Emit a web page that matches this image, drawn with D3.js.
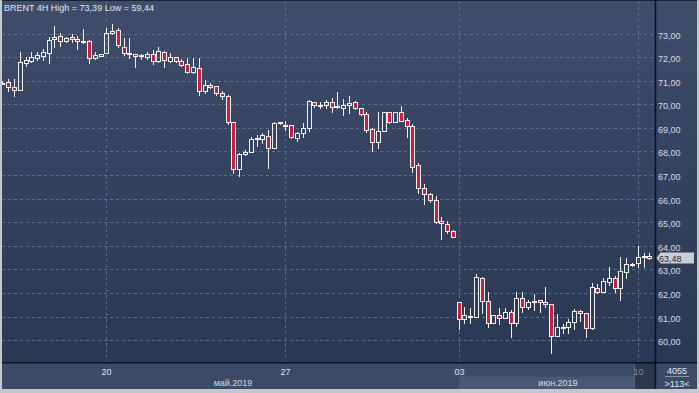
<!DOCTYPE html>
<html><head><meta charset="utf-8">
<script src="https://cdn.jsdelivr.net/npm/d3@7"></script>
<style>html,body{margin:0;padding:0;background:#c3c8d0;}svg{display:block;}</style>
</head><body>
<svg id="chart" width="699" height="393"></svg>
<script>
const title = "BRENT 4H High = 73,39 Low = 59,44";
const openV  = [70.90,70.94,70.72,70.62,71.76,71.85,71.95,72.06,72.19,72.75,72.89,72.69,72.77,72.75,72.65,72.69,71.95,72.05,72.19,73.01,73.15,72.44,72.12,72.13,72.03,72.00,72.12,71.82,72.20,71.82,72.00,71.85,71.69,71.36,71.52,70.58,70.82,70.76,70.48,70.35,69.24,67.24,67.88,67.99,68.53,68.54,68.65,68.16,69.21,69.10,69.11,68.58,68.77,69.01,70.08,69.93,69.97,70.08,69.88,69.83,69.97,70.10,69.83,69.59,68.94,68.39,68.87,69.66,69.26,69.66,69.33,69.08,67.43,66.44,66.18,65.94,65.04,64.92,64.63,61.61,60.91,61.01,61.00,62.62,61.67,60.74,61.05,60.95,61.19,60.74,61.78,61.42,61.62,61.70,61.61,61.53,60.19,60.53,60.55,60.78,61.24,61.14,60.53,62.20,62.06,62.48,62.62,62.22,62.90,63.20,63.28,63.53,63.58];
const highV  = [70.97,71.06,71.06,72.22,72.02,72.20,72.22,72.33,72.86,73.33,73.01,72.86,72.97,72.89,73.19,72.71,72.20,72.15,73.22,73.39,73.22,72.80,72.80,72.15,72.13,72.20,72.29,72.44,72.26,72.16,72.01,71.91,71.95,71.97,71.97,71.03,70.91,70.78,70.55,70.39,69.26,67.95,68.06,68.60,68.69,68.80,68.91,69.26,69.25,69.30,69.12,68.84,69.19,70.18,70.09,70.08,70.18,70.25,70.51,70.21,70.35,70.14,69.84,69.69,69.01,69.69,69.67,69.69,69.69,69.94,69.41,69.16,67.52,66.61,66.25,66.11,65.21,65.05,64.67,61.62,61.42,61.35,62.81,62.70,62.03,61.07,61.35,61.35,61.28,62.03,62.03,61.70,61.94,61.71,62.24,61.54,61.11,60.69,60.89,61.31,61.28,61.15,62.41,62.38,62.62,63.11,62.73,63.54,63.47,63.26,63.99,63.68,63.68];
const lowV   = [70.86,70.55,70.36,70.60,71.64,71.79,71.88,71.88,71.76,72.44,72.48,72.64,72.64,72.33,72.58,71.74,71.92,72.03,72.17,73.00,72.44,72.10,71.95,71.57,71.91,71.91,71.69,71.78,71.57,71.79,71.79,71.62,71.31,71.34,70.38,70.49,70.69,70.39,70.21,69.16,67.10,66.96,67.87,67.98,68.23,68.37,67.29,68.15,69.18,68.91,68.58,68.46,68.60,68.87,69.87,69.83,69.83,69.69,69.83,69.55,69.62,69.80,69.55,68.84,68.03,68.13,68.86,69.19,69.25,69.29,68.60,67.11,66.25,65.76,65.87,64.95,64.28,64.53,64.37,60.47,60.72,60.72,60.99,61.14,60.57,60.73,60.69,60.94,60.15,60.60,61.21,61.32,61.28,61.21,61.42,59.44,60.18,60.29,60.32,60.47,60.81,60.15,60.47,62.01,62.04,62.34,62.06,61.70,62.65,63.14,63.09,63.09,63.45];
const closeV = [70.92,70.72,70.62,71.78,71.88,71.99,72.09,72.20,72.72,72.84,72.69,72.80,72.84,72.67,72.69,71.95,72.08,72.13,73.03,73.12,72.50,72.16,72.17,72.05,72.07,72.12,71.82,72.25,71.88,72.00,71.82,71.66,71.36,71.57,70.58,70.82,70.72,70.48,70.35,69.26,67.24,67.88,67.99,68.53,68.58,68.69,68.13,69.22,69.24,69.12,68.60,68.77,69.01,70.14,69.97,69.97,70.08,69.87,69.91,69.97,70.07,69.83,69.57,68.91,68.39,68.87,69.66,69.26,69.66,69.30,69.09,67.35,66.44,66.18,65.94,65.02,64.95,64.64,64.39,60.89,61.05,61.04,62.67,61.67,60.74,61.05,60.95,61.19,60.72,61.78,61.42,61.61,61.65,61.61,61.53,60.19,60.55,60.56,60.78,61.24,61.14,60.53,62.24,62.06,62.51,62.62,62.22,62.95,63.22,63.23,63.54,63.56,63.48];
const dayTickIndex = [18, 49, 79, 110];
const dayTickLabels = ["20", "27", "03", "10"];
const monthLabels = ["май.2019", "июн.2019"];
const priceTicks = [60,61,62,63,64,65,66,67,68,69,70,71,72,73];
const lastPrice = 63.48;
const barCountLabel = "4055";
const visibleLabel = ">113<";

const W = 699, H = 393;
const plotL = 2, plotR = 655, plotT = 1, plotB = 362;
const svg = d3.select("#chart");
const defs = svg.append("defs");
const grad = defs.append("linearGradient").attr("id","bg").attr("x1",0).attr("y1",0).attr("x2",0).attr("y2",1);
grad.append("stop").attr("offset","0%").attr("stop-color","#3f4c6a");
grad.append("stop").attr("offset","100%").attr("stop-color","#2b3853");
defs.append("clipPath").attr("id","clip").append("rect")
  .attr("x",plotL).attr("y",plotT).attr("width",plotR-plotL).attr("height",plotB-plotT);

// frame
svg.append("rect").attr("x",0).attr("y",0).attr("width",W).attr("height",H).attr("fill","#c3c8d0");
svg.append("rect").attr("x",2).attr("y",0).attr("width",695).attr("height",plotB).attr("fill","url(#bg)");
svg.append("rect").attr("x",2).attr("y",0).attr("width",695).attr("height",1).attr("fill","#1b2333");
// bottom strip
svg.append("rect").attr("x",2).attr("y",plotB).attr("width",695).attr("height",389-plotB).attr("fill","#3d4a66");

const x = d3.scaleLinear().domain([0, openV.length-1]).range([2.4, 649.3]);
const y = d3.scaleLinear().domain([60, 73]).range([340.2, 33.5]);
const px = v => Math.round(x(v));
const py = v => Math.round(y(v));

// month bands
svg.append("rect").attr("x",px(79)).attr("y",376.5).attr("width",634-px(79)).attr("height",389-376.5).attr("fill","#4b5874");
svg.append("rect").attr("x",634).attr("y",plotB).attr("width",plotR-634).attr("height",389-plotB).attr("fill","#2c374f");
svg.append("line").attr("x1",634.5).attr("x2",634.5).attr("y1",plotB).attr("y2",389).attr("stroke","#56627a");

// grid
const g = svg.append("g").attr("clip-path","url(#clip)");
g.selectAll("line.hg").data(priceTicks).join("line").attr("class","hg")
  .attr("x1",plotL).attr("x2",plotR).attr("y1",d=>py(d)+0.5).attr("y2",d=>py(d)+0.5)
  .attr("stroke","#5d6d8c").attr("stroke-dasharray","3,3").attr("stroke-width",1);
g.selectAll("line.vg").data(dayTickIndex).join("line").attr("class","vg")
  .attr("x1",d=>px(d)+0.5).attr("x2",d=>px(d)+0.5).attr("y1",plotT).attr("y2",plotB)
  .attr("stroke","#5d6d8c").attr("stroke-dasharray","3,3").attr("stroke-width",1);

// candles
const data = openV.map((o,i)=>({i, o, h:highV[i], l:lowV[i], c:closeV[i]}));
const up = d => d.c >= d.o;
const cg = g.selectAll("g.c").data(data).join("g").attr("class","c");
cg.append("line")
  .attr("x1",d=>px(d.i)+0.5).attr("x2",d=>px(d.i)+0.5)
  .attr("y1",d=>py(d.h)).attr("y2",d=>py(Math.max(d.o,d.c)))
  .attr("stroke","#f2f2f2").attr("stroke-width",1);
cg.append("line")
  .attr("x1",d=>px(d.i)+0.5).attr("x2",d=>px(d.i)+0.5)
  .attr("y1",d=>py(Math.min(d.o,d.c))).attr("y2",d=>py(d.l)+1)
  .attr("stroke","#f2f2f2").attr("stroke-width",1);
cg.append("rect")
  .attr("x",d=>px(d.i)-1.5).attr("width",4)
  .attr("y",d=>py(Math.max(d.o,d.c))+0.5)
  .attr("height",d=>Math.max(1, py(Math.min(d.o,d.c))-py(Math.max(d.o,d.c))))
  .attr("fill",d=>up(d)?"none":"#c8203c")
  .attr("stroke","#f2f2f2").attr("stroke-width",1);

// axes lines
svg.append("line").attr("x1",655.5).attr("x2",655.5).attr("y1",0).attr("y2",389).attr("stroke","#0b101b").attr("stroke-width",1.5);
svg.append("line").attr("x1",2).attr("x2",697).attr("y1",362.75).attr("y2",362.75).attr("stroke","#0b101b").attr("stroke-width",1.5);

const font = "'Liberation Sans', Arial, sans-serif";
// price axis labels
const fmt = v => d3.format(".2f")(v).replace(".", ",");
svg.selectAll("text.pl").data(priceTicks).join("text").attr("class","pl")
  .attr("x",658).attr("y",d=>py(d)+4.5).text(fmt)
  .attr("font-family",font).attr("font-size",9).attr("fill","#d5dbe5");

// last price label
const ly = y(lastPrice);
svg.append("path").attr("d",`M656.5,${ly} L660.5,${ly-5.5} H694 V${ly+5.5} H660.5 Z`).attr("fill","#c9cdd4");
svg.append("text").attr("x",659).attr("y",ly+3.5).text(fmt(lastPrice))
  .attr("font-family",font).attr("font-size",9).attr("fill","#262a30");

// title
svg.append("text").attr("x",4).attr("y",11).text(title)
  .attr("font-family",font).attr("font-size",9).attr("fill","#e2e7ef");

// day labels
svg.selectAll("text.dl").data(dayTickIndex).join("text").attr("class","dl")
  .attr("x",d=>px(d)+0.5).attr("y",374.5).attr("text-anchor","middle")
  .text((d,k)=>dayTickLabels[k])
  .attr("font-family",font).attr("font-size",9)
  .attr("fill",(d,k)=>k===3?"#7f8aa0":"#dfe4ec");
// month labels
svg.append("text").attr("x",233).attr("y",385.5).attr("text-anchor","middle").text(monthLabels[0])
  .attr("font-family",font).attr("font-size",9).attr("fill","#d5dbe5");
svg.append("text").attr("x",558).attr("y",385.5).attr("text-anchor","middle").text(monthLabels[1])
  .attr("font-family",font).attr("font-size",9).attr("fill","#d5dbe5");

// bottom-right box
svg.append("text").attr("x",677).attr("y",373.5).attr("text-anchor","middle").text(barCountLabel)
  .attr("font-family",font).attr("font-size",9).attr("fill","#e2e7ef");
svg.append("line").attr("x1",665).attr("x2",689).attr("y1",376.5).attr("y2",376.5).attr("stroke","#8a95aa");
svg.append("text").attr("x",677).attr("y",386.5).attr("text-anchor","middle").text(visibleLabel)
  .attr("font-family",font).attr("font-size",9).attr("fill","#e2e7ef");
</script>
</body></html>
